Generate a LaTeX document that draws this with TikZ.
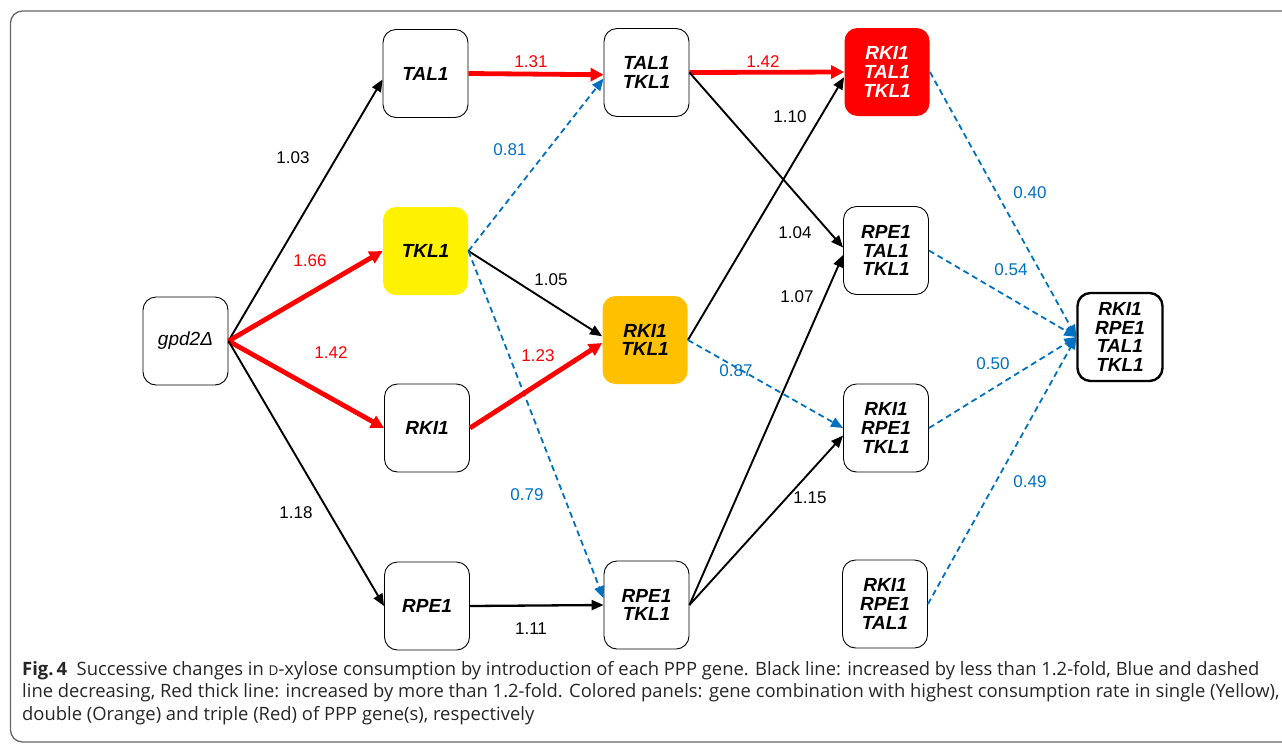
\documentclass[tikz,border=0pt]{standalone}
\usepackage{fontspec}
\setmainfont{Liberation Sans}
\newfontfamily\capfont{Open Sans}
\usetikzlibrary{arrows.meta}

\definecolor{downblue}{HTML}{0070C0}
\definecolor{panelorange}{HTML}{FFC000}

\tikzset{
	gene/.style={rectangle, draw, line width=0.9pt, rounded corners=13pt, minimum width=85pt, minimum height=88pt, align=center, inner sep=0pt, font=\fontsize{19}{18.8}\selectfont\bfseries\itshape},
	panel/.style={gene, draw=none, fill=#1},
	up/.style={-{Triangle[length=12pt,width=10pt]}, line width=1.9pt},
	upthick/.style={-{Triangle[length=13pt,width=13pt]}, line width=4.8pt, red},
	down/.style={-{Triangle[length=12pt,width=10pt]}, line width=1.8pt, downblue, dash pattern=on 6pt off 4pt},
	val/.style={font=\fontsize{17}{17}\selectfont, inner sep=1pt}
}

\begin{document}
\begin{tikzpicture}[x=1pt, y=-1pt]
		\useasboundingbox (0,0) rectangle (1282,745);
		\begin{scope}
			\clip (0,0) rectangle (1282,745);
			\draw[black!60, line width=1.3pt, rounded corners=12pt] (10.5,11) rectangle (1300,742);
		\end{scope}

		\path (185.5, 341) node[gene] (gpd) {\mdseries gpd2Δ}
  		(425.5, 73.5) node[gene] (tal) {TAL1}
  		(425.5, 251) node[panel=yellow] (tkl) {TKL1}
  		(427, 428) node[gene] (rki) {RKI1}
  		(427, 606) node[gene] (rpe) {RPE1}
  		(646.5, 72.5) node[gene] (taltkl) {TAL1\\TKL1}
  		(645, 340) node[panel=panelorange] (rkitkl) {RKI1\\TKL1}
  		(646.5, 605) node[gene] (rpetkl) {RPE1\\TKL1}
  		(887, 72) node[panel=red, text=white] (rkitaltkl) {RKI1\\TAL1\\TKL1}
  		(886, 250.5) node[gene] (rpetaltkl) {RPE1\\TAL1\\TKL1}
  		(886, 428) node[gene] (rkirpetkl) {RKI1\\RPE1\\TKL1}
  		(885, 604) node[gene] (rkirpetal) {RKI1\\RPE1\\TAL1}
  		(1120, 337) node[gene, line width=2.4pt] (all) {RKI1\\RPE1\\TAL1\\TKL1};

		\draw[up] (gpd.east) -- (tal.188);
		\draw[upthick] (gpd.east) -- (tkl.west);
		\draw[upthick] (gpd.east) -- (rki.west);
		\draw[up] (gpd.east) -- (rpe.west);
		\draw[upthick] (tal.east) -- (taltkl.183);
		\draw[down] (tkl.east) -- (taltkl.188);
		\draw[up] (tkl.east) -- (rkitkl.175);
		\draw[down] (tkl.east) -- (rpetkl.171);
		\draw[upthick] (rki.east) -- (rkitkl.184);
		\draw[up, line width=2.3pt] (rpe.east) -- (rpetkl.west);
		\draw[upthick] (taltkl.east) -- (rkitaltkl.west);
		\draw[up] (rkitkl.east) -- (rkitaltkl.187);
		\draw[up] (taltkl.east) -- (rpetaltkl.176);
		\draw[up] (rpetkl.east) -- (rpetaltkl.186);
		\draw[down] (rkitkl.east) -- (rkirpetkl.west);
		\draw[up] (rpetkl.east) -- (rkirpetkl.190);
		\draw[down] (rkitaltkl.east) -- (all.west);
		\draw[down] (rpetaltkl.east) -- (all.west);
		\draw[down] (rkirpetkl.east) -- (all.west);
		\draw[down] (rkirpetal.east) -- (all.west);

		% fold changes
		\path (293, 158) node[val] (v1) {1.03}
  		(310, 261) node[val, red] (v2) {1.66}
  		(331, 353) node[val, red] (v3) {1.42}
  		(296, 513) node[val] (v4) {1.18}
  		(531, 62) node[val, red] (v5) {1.31}
  		(510, 150) node[val, downblue] (v6) {0.81}
  		(551, 280) node[val] (v7) {1.05}
  		(538, 356) node[val, red] (v8) {1.23}
  		(527, 495) node[val, downblue] (v9) {0.79}
  		(531, 629) node[val] (v10) {1.11}
  		(763, 62) node[val, red] (v11) {1.42}
  		(790, 117) node[val] (v12) {1.10}
  		(795, 233) node[val] (v13) {1.04}
  		(797, 297) node[val] (v14) {1.07}
  		(736, 371) node[val, downblue] (v15) {0.87}
  		(810, 498) node[val] (v16) {1.15}
  		(1030, 193) node[val, downblue] (v17) {0.40}
  		(1011, 270) node[val, downblue] (v18) {0.54}
  		(993, 364) node[val, downblue] (v19) {0.50}
  		(1030, 482) node[val, downblue] (v20) {0.49};

		\path (22, 720) node[anchor=base west, align=left, inner sep=0pt, text=black!85, font=\capfont\fontsize{18.4}{22.5}\selectfont] (caption)
		{\textbf{Fig.\,4}\ \ Successive changes in {\fontsize{13.5}{12}\selectfont D}-xylose consumption by introduction of each PPP gene. Black line: increased by less than 1.2-fold, Blue and dashed\\
		line decreasing, Red thick line: increased by more than 1.2-fold. Colored panels: gene combination with highest consumption rate in single (Yellow),\\
		double (Orange) and triple (Red) of PPP gene(s), respectively};
	\end{tikzpicture}
\end{document}
